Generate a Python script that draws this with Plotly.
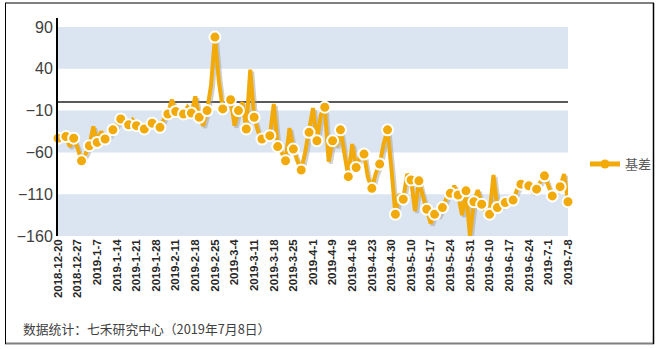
import plotly.graph_objects as go

# ---- data ----
tick_labels = ["2018-12-20", "2018-12-27", "2019-1-7", "2019-1-14", "2019-1-21", "2019-1-28",
               "2019-2-11", "2019-2-18", "2019-2-25", "2019-3-4", "2019-3-11", "2019-3-18",
               "2019-3-25", "2019-4-1", "2019-4-9", "2019-4-16", "2019-4-23", "2019-4-30",
               "2019-5-10", "2019-5-17", "2019-5-24", "2019-5-31", "2019-6-10", "2019-6-17",
               "2019-6-24", "2019-7-1", "2019-7-8"]
basis = [-43, -42, -41, -53, -43, -55, -70, -62, -52, -29,
         -48, -35, -44, -40, -33, -28, -20, -24, -27, -21,
         -28, -30, -32, -23, -25, -30, -30, -20, -14, 3,
         -11, -14, -14, -6, -13, 7, -18, -28, -10, 20,
         78, 25, -8, -5, 3, -28, -10, 0, -32, 39,
         -18, -35, -44, -38, -40, -2, -53, -60, -70, -31,
         -56, -70, -81, -60, -36, -7, -46, -15, -6, -71,
         -46, -52, -33, -60, -89, -50, -78, -65, -62, -90,
         -103, -85, -74, -50, -33, -80, -134, -110, -116, -86,
         -93, -130, -94, -112, -128, -145, -134, -135, -126, -115,
         -109, -100, -111, -135, -106, -160, -119, -105, -122, -130,
         -134, -87, -126, -124, -120, -118, -117, -105, -98, -96,
         -100, -107, -104, -95, -88, -100, -112, -105, -101, -86,
         -119]
series_name = "基差"
y_ticks = [-160, -110, -60, -10, 40, 90]
footer = "数据统计：七禾研究中心（2019年7月8日）"

# ---- layout constants ----
W, H = 658, 349
ML, MR, MT, MB = 58, 90, 18, 113
PW, PH = W - ML - MR, H - MT - MB
ORANGE = "#F2AA0A"
BAND = "#DBE5F1"

x = list(range(len(basis)))
step = 5
tickvals = [i * step for i in range(len(tick_labels))]
mx = x[::2]
my = basis[::2]

fig = go.Figure()
# shadow
fig.add_trace(go.Scatter(x=[v + 0.5 for v in x], y=[v - 2.4 for v in basis], mode="lines",
                         line=dict(color="rgba(150,150,150,0.45)", width=4),
                         showlegend=False, hoverinfo="skip", cliponaxis=False))
fig.add_trace(go.Scatter(x=x, y=basis, mode="lines", line=dict(color=ORANGE, width=4),
                         showlegend=False, cliponaxis=False))
fig.add_trace(go.Scatter(x=mx, y=my, mode="markers",
                         marker=dict(color=ORANGE, size=11, line=dict(color="white", width=2)),
                         showlegend=False, cliponaxis=False))
# legend entry
fig.add_trace(go.Scatter(x=[None], y=[None], mode="lines+markers", name=series_name,
                         line=dict(color=ORANGE, width=5),
                         marker=dict(color=ORANGE, size=9)))

shapes = []
# alternating bands between gridlines
for i in range(len(y_ticks) - 1):
    if (len(y_ticks) - 2 - i) % 2 == 0:
        shapes.append(dict(type="rect", xref="x domain", yref="y", x0=0, x1=1,
                           y0=y_ticks[i], y1=y_ticks[i + 1], fillcolor=BAND,
                           line=dict(width=0), layer="below"))

def px2paper_x(p):
    return (p - ML) / PW

def px2paper_y(p):
    return (H - MB - p) / PH

# outer frame
shapes += [
    dict(type="line", xref="paper", yref="paper", x0=px2paper_x(5), x1=px2paper_x(654),
         y0=px2paper_y(3), y1=px2paper_y(3), line=dict(color="#7F7F7F", width=2)),
    dict(type="line", xref="paper", yref="paper", x0=px2paper_x(5), x1=px2paper_x(654),
         y0=px2paper_y(343.5), y1=px2paper_y(343.5), line=dict(color="#7F7F7F", width=2)),
    dict(type="line", xref="paper", yref="paper", x0=px2paper_x(5.5), x1=px2paper_x(5.5),
         y0=px2paper_y(3), y1=px2paper_y(344), line=dict(color="#000000", width=1)),
    dict(type="line", xref="paper", yref="paper", x0=px2paper_x(653.5), x1=px2paper_x(653.5),
         y0=px2paper_y(3), y1=px2paper_y(344), line=dict(color="#000000", width=1.5)),
]

fig.update_layout(
    width=W, height=H,
    margin=dict(l=ML, r=MR, t=MT, b=MB, pad=0),
    paper_bgcolor="white", plot_bgcolor="white",
    font=dict(family="Liberation Sans, Arial, sans-serif", color="#404040"),
    shapes=shapes,
    showlegend=True,
    legend=dict(xref="container", yref="container", x=585 / W, y=(H - 164) / H,
                xanchor="left", yanchor="middle",
                font=dict(family="Noto Sans CJK SC", size=13, color="#595959"),
                bgcolor="rgba(0,0,0,0)", borderwidth=0),
    annotations=[dict(text=footer, xref="paper", yref="paper", x=px2paper_x(21),
                      y=px2paper_y(328), xanchor="left", yanchor="middle", showarrow=False,
                      font=dict(family="Noto Sans CJK SC", size=12.8, color="#404040"))],
)
fig.update_xaxes(range=[0, len(basis) - 1], tickmode="array", tickvals=tickvals,
                 ticktext=tick_labels, tickangle=-90, showgrid=False, zeroline=False,
                 showline=False, ticks="",
                 tickfont=dict(family="Liberation Sans, Arial", size=11.5, color="#262626",
                               weight="bold"))
fig.update_yaxes(range=[-160, 100.8], tickmode="array", tickvals=y_ticks, showgrid=False,
                 zeroline=True, zerolinecolor="#5A5A5A", zerolinewidth=2,
                 showline=True, linecolor="black", linewidth=2, ticks="",
                 tickfont=dict(family="Liberation Sans, Arial", size=16, color="#404040"))

fig.write_html("out.html")
